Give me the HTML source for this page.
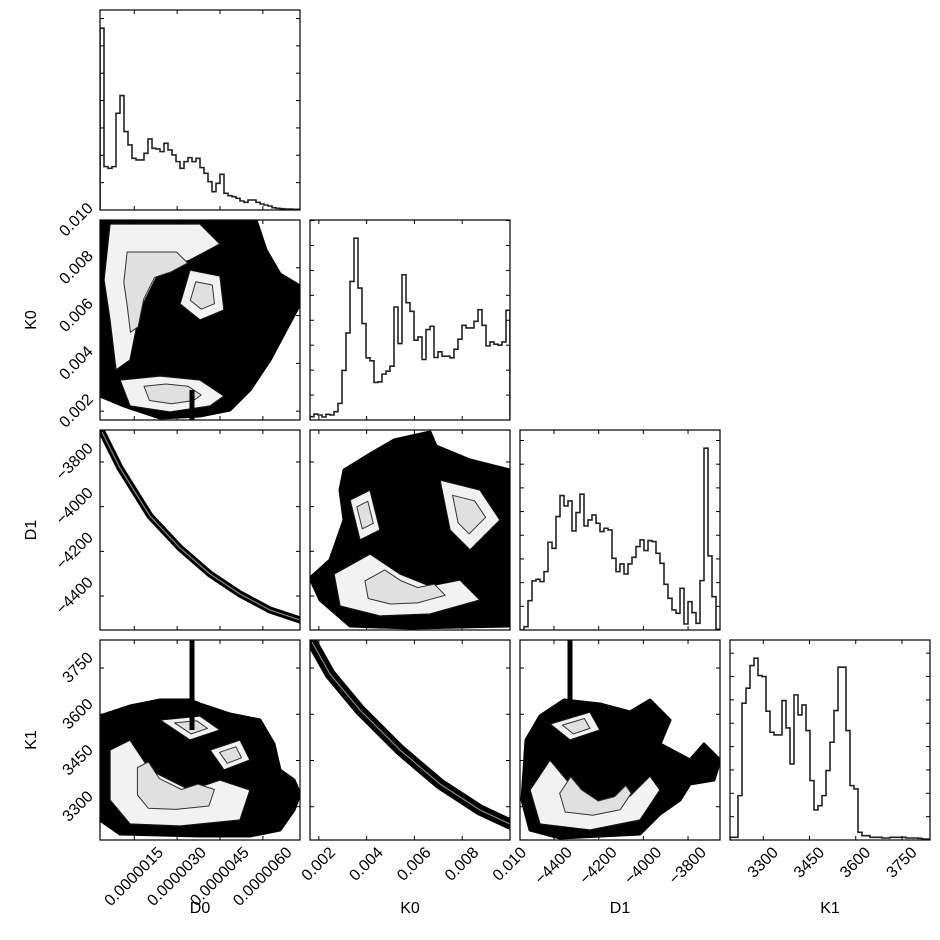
<!DOCTYPE html>
<html><head><meta charset="utf-8">
<style>
html,body{margin:0;padding:0;background:#fff;}
svg{display:block;font-family:"Liberation Sans",sans-serif;}
</style></head>
<body>
<svg id="fig" width="940" height="940" viewBox="0 0 940 940"></svg>
<script>
// ---- data ----
const paramNames = ["D0","K0","D1","K1"];
const rangeD0 = [0.3e-6, 7.3e-6];
const rangeK0 = [0.00163, 0.010];
const rangeD1 = [-4552, -3657];
const rangeK1 = [3192, 3841];
const ticksD0 = [1.5e-6, 3.0e-6, 4.5e-6, 6.0e-6];
const tickLabelsD0 = ["0.0000015","0.0000030","0.0000045","0.0000060"];
const ticksK0 = [0.002,0.004,0.006,0.008,0.010];
const tickLabelsK0 = ["0.002","0.004","0.006","0.008","0.010"];
const ticksD1 = [-4400,-4200,-4000,-3800];
const tickLabelsD1 = ["\u22124400","\u22124200","\u22124000","\u22123800"];
const ticksK1 = [3300,3450,3600,3750];
const tickLabelsK1 = ["3300","3450","3600","3750"];
const histD0 = [545,130,125,130,290,343,235,195,155,150,150,170,213,185,183,175,200,180,165,145,125,145,157,145,155,127,110,85,55,80,107,50,43,40,35,27,23,30,30,23,18,15,12,7,5,4,3,3,2,2];
const histK0 = [10,18,15,9,17,15,25,50,149,262,417,547,397,290,187,178,113,115,138,147,162,340,230,437,353,327,240,250,182,272,282,188,205,192,192,187,213,243,285,277,277,297,332,285,223,235,228,225,235,330];
const histD1 = [0,10,88,147,152,145,175,263,245,340,403,372,387,297,352,407,312,330,345,320,295,305,300,215,175,198,168,198,218,250,270,238,268,265,230,200,137,95,60,50,125,18,85,52,20,148,545,222,100,2];
const histK1 = [8,8,133,410,455,523,545,493,490,386,323,315,315,418,336,228,435,375,405,328,178,90,103,133,208,293,388,518,518,328,163,153,23,13,13,8,8,8,6,6,8,8,8,8,6,6,6,5,3,3];
const histTickStep = [82,75,71,70];
const blobD0K0 = [[0,0],[0.78,0],[0.83,0.15],[0.9,0.27],[1,0.33],[1,0.42],[0.93,0.55],[0.85,0.7],[0.75,0.85],[0.65,0.95],[0.5,0.98],[0.3,0.99],[0.12,0.93],[0,0.88]];
const holesD0K0 = [
 [[0.05,0.02],[0.5,0.02],[0.6,0.12],[0.45,0.2],[0.3,0.25],[0.2,0.45],[0.15,0.7],[0.08,0.75],[0.05,0.5],[0.02,0.3]],
 [[0.45,0.25],[0.6,0.28],[0.62,0.45],[0.5,0.5],[0.4,0.42]],
 [[0.1,0.8],[0.3,0.78],[0.5,0.8],[0.62,0.88],[0.55,0.93],[0.35,0.96],[0.15,0.93]]];
const ridgeD0D1 = [[0.01,0.01],[0.1,0.19],[0.25,0.43],[0.4,0.59],[0.55,0.72],[0.7,0.82],[0.85,0.9],[1.0,0.95]];
const blobK0D1 = [[0.17,0.2],[0.3,0.12],[0.42,0.05],[0.6,0.01],[0.63,0.08],[0.8,0.15],[1,0.2],[1,0.98],[0.5,0.99],[0.2,0.98],[0.05,0.85],[0,0.74],[0.1,0.65],[0.17,0.45],[0.15,0.3]];
const holesK0D1 = [
 [[0.12,0.72],[0.3,0.62],[0.45,0.72],[0.6,0.78],[0.75,0.75],[0.85,0.85],[0.6,0.92],[0.35,0.93],[0.15,0.88]],
 [[0.65,0.25],[0.85,0.3],[0.95,0.45],[0.8,0.6],[0.7,0.5]],
 [[0.2,0.35],[0.3,0.3],[0.35,0.5],[0.25,0.55]]];
const blobD0K1 = [[0,0.38],[0.15,0.33],[0.3,0.3],[0.45,0.3],[0.5,0.32],[0.65,0.37],[0.8,0.4],[0.87,0.52],[0.9,0.65],[0.97,0.7],[1,0.77],[0.97,0.85],[0.9,0.95],[0.75,0.98],[0.5,0.98],[0.1,0.97],[0,0.9]];
const holesD0K1 = [
 [[0.05,0.55],[0.15,0.5],[0.25,0.65],[0.45,0.75],[0.6,0.7],[0.75,0.75],[0.7,0.9],[0.4,0.93],[0.15,0.92],[0.05,0.8]],
 [[0.3,0.4],[0.5,0.38],[0.6,0.45],[0.45,0.5]],
 [[0.55,0.55],[0.7,0.5],[0.75,0.6],[0.62,0.65]]];
const spikeD0K1 = [[0.46,0],[0.46,0.45]];
const ridgeK0K1 = [[0.01,0.01],[0.1,0.17],[0.25,0.35],[0.45,0.55],[0.65,0.72],[0.85,0.85],[1.0,0.92]];
const blobD1K1 = [[0.03,0.5],[0.1,0.38],[0.22,0.3],[0.4,0.32],[0.55,0.36],[0.65,0.3],[0.75,0.4],[0.7,0.52],[0.85,0.6],[0.92,0.52],[1,0.6],[0.97,0.7],[0.85,0.72],[0.8,0.8],[0.7,0.87],[0.6,0.97],[0.2,0.99],[0.05,0.95],[0.01,0.8]];
const holesD1K1 = [
 [[0.05,0.75],[0.15,0.6],[0.25,0.72],[0.4,0.82],[0.55,0.78],[0.65,0.68],[0.7,0.75],[0.6,0.9],[0.35,0.95],[0.1,0.92]],
 [[0.15,0.42],[0.35,0.36],[0.4,0.45],[0.25,0.5]]];
const spikeD1K1 = [[0.25,0],[0.25,0.35]];

// ---- layout ----
const NS="http://www.w3.org/2000/svg";
const svg=document.getElementById('fig');
const X0=[100,310,520,730], Y0=[10,220,430,640], S=200;
const ranges=[rangeD0,rangeK0,rangeD1,rangeK1];
const ticks=[ticksD0,ticksK0,ticksD1,ticksK1];
const tlabels=[tickLabelsD0,tickLabelsK0,tickLabelsD1,tickLabelsK1];
const hists=[histD0,histK0,histD1,histK1];
function mk(tag,attrs,parent){const e=document.createElementNS(NS,tag);for(const k in attrs)e.setAttribute(k,attrs[k]);(parent||svg).appendChild(e);return e;}
function xs(p,v){const r=ranges[p];return X0[p]+(v-r[0])/(r[1]-r[0])*S;}
function ys(p,row,v){const r=ranges[p];return Y0[row]+S-(v-r[0])/(r[1]-r[0])*S;}
function fx(p,u){return xs(p,ranges[p][0]+u*(ranges[p][1]-ranges[p][0]));}
function fy(p,row,v){return ys(p,row,ranges[p][1]-v*(ranges[p][1]-ranges[p][0]));}
function poly(pts,px,py,row){return pts.map((q,i)=>(i?'L':'M')+fx(px,q[0]).toFixed(1)+','+fy(py,row,q[1]).toFixed(1)).join(' ')+' Z';}
function line(pts,px,py,row){return pts.map((q,i)=>(i?'L':'M')+fx(px,q[0]).toFixed(1)+','+fy(py,row,q[1]).toFixed(1)).join(' ');}

const defs=mk('defs',{});
for(let r=0;r<4;r++)for(let c=0;c<=r;c++){const cp=mk('clipPath',{id:'cp'+r+c},defs);mk('rect',{x:X0[c],y:Y0[r],width:S,height:S},cp);}

for(let i=0;i<4;i++){
  const h=hists[i], n=h.length, mx=Math.max(...h)*1.1, x0=X0[i], y0=Y0[i];
  const g=mk('g',{'clip-path':'url(#cp'+i+i+')'});
  
  
  let d='M'+x0+','+(y0+S);
  for(let k=0;k<n;k++){const yy=y0+S-h[k]/mx*S;d+=' L'+(x0+k*S/n).toFixed(2)+','+yy.toFixed(2)+' L'+(x0+(k+1)*S/n).toFixed(2)+','+yy.toFixed(2);}
  d+=' L'+(x0+S)+','+(y0+S);
  const p=mk('path',{d:d,fill:'none',stroke:'#222','stroke-width':1.6},g);
  
  
  for(let t=histTickStep[i];t<mx;t+=histTickStep[i]){const yy=y0+S-t/mx*S;mk('line',{x1:x0,x2:x0+4,y1:yy,y2:yy,stroke:'#000'});mk('line',{x1:x0+S-4,x2:x0+S,y1:yy,y2:yy,stroke:'#000'});}
}

function panel2d(r,c,blob,holes,spike){
  const g=mk('g',{'clip-path':'url(#cp'+r+c+')'});
  
  
  if(blob){const b=mk('path',{d:poly(blob,c,r,r),fill:'#000',stroke:'#000','stroke-width':3,'stroke-linejoin':'round'},g);
    }
  (holes||[]).forEach(h=>{
    const w=mk('path',{d:poly(h,c,r,r),fill:'#f2f2f2',stroke:'#111','stroke-width':1.3,'stroke-linejoin':'round'},g);
    
    const cx=h.reduce((a,b)=>a+b[0],0)/h.length,cy=h.reduce((a,b)=>a+b[1],0)/h.length;
    const inner=h.map(q=>[cx+(q[0]-cx)*0.55,cy+(q[1]-cy)*0.55]);
    const w2=mk('path',{d:poly(inner,c,r,r),fill:'#e0e0e0',stroke:'#333','stroke-width':1,'stroke-linejoin':'round'},g);
    
  });
  if(spike){const s=mk('path',{d:line(spike,c,r,r),stroke:'#000','stroke-width':5,fill:'none'},g);
    }
  return g;
}
panel2d(1,0,blobD0K0,holesD0K0,[[0.46,0.85],[0.46,1.0]]);
panel2d(2,1,blobK0D1,holesK0D1,null);
panel2d(3,0,blobD0K1,holesD0K1,spikeD0K1);
panel2d(3,2,blobD1K1,holesD1K1,spikeD1K1);
function ridge(r,c,pts,w){
  const g=panel2d(r,c,null,null,null);
  const a=mk('path',{d:line(pts,c,r,r),stroke:'#000','stroke-width':w,fill:'none','stroke-linecap':'round'},g);
  
  const b=mk('path',{d:line(pts,c,r,r),stroke:'#888','stroke-width':1.2,fill:'none'},g);
  
}
ridge(2,0,ridgeD0D1,7);
ridge(3,1,ridgeK0K1,11);

for(let r=0;r<4;r++)for(let c=0;c<=r;c++){
  const x0=X0[c],y0=Y0[r];
  const f=mk('rect',{x:x0,y:y0,width:S,height:S,fill:'none',stroke:'#000','stroke-width':1.2});
  
  ticks[c].forEach(t=>{const xx=xs(c,t);if(xx<x0+1||xx>x0+S-1)return;mk('line',{x1:xx,x2:xx,y1:y0,y2:y0+4,stroke:'#000'});mk('line',{x1:xx,x2:xx,y1:y0+S-4,y2:y0+S,stroke:'#000'});});
  if(r!==c)ticks[r].forEach(t=>{const yy=ys(r,r,t);if(yy<y0+1||yy>y0+S-1)return;mk('line',{x1:x0,x2:x0+4,y1:yy,y2:yy,stroke:'#000'});mk('line',{x1:x0+S-4,x2:x0+S,y1:yy,y2:yy,stroke:'#000'});});
}
const FS=16, H=FS*0.75;
// bottom tick labels: rotated 45 deg, centred on tick, bbox top at 846
for(let c=0;c<4;c++){
  ticks[c].forEach((t,k)=>{
    const xx=xs(c,t);
    const tx=mk('text',{x:0,y:0,'text-anchor':'middle','dominant-baseline':'central','font-size':FS});
    tx.textContent=tlabels[c][k];
    
    const w=tx.getComputedTextLength();
    const half=(w+H)*0.7071/2;
    const cy=846+half;
    tx.setAttribute('transform','translate('+xx.toFixed(1)+' '+cy.toFixed(1)+') rotate(-45)');
  });
  const at=mk('text',{x:X0[c]+100,y:913,'text-anchor':'middle','font-size':16});at.textContent=paramNames[c];
  
}
// left tick labels: bbox right edge at 95, centred on tick
for(let r=1;r<4;r++){
  ticks[r].forEach((t,k)=>{
    const yy=ys(r,r,t);
    const tx=mk('text',{x:0,y:0,'text-anchor':'middle','dominant-baseline':'central','font-size':FS});
    tx.textContent=tlabels[r][k];
    
    const w=tx.getComputedTextLength();
    const half=(w+H)*0.7071/2;
    const cx=95-half;
    tx.setAttribute('transform','translate('+cx.toFixed(1)+' '+yy.toFixed(1)+') rotate(-45)');
  });
  const cy=Y0[r]+100;
  const at=mk('text',{x:36,y:cy,'text-anchor':'middle','font-size':16,transform:'rotate(-90 36 '+cy+')'});at.textContent=paramNames[r];
  
}
</script>
</body></html>
